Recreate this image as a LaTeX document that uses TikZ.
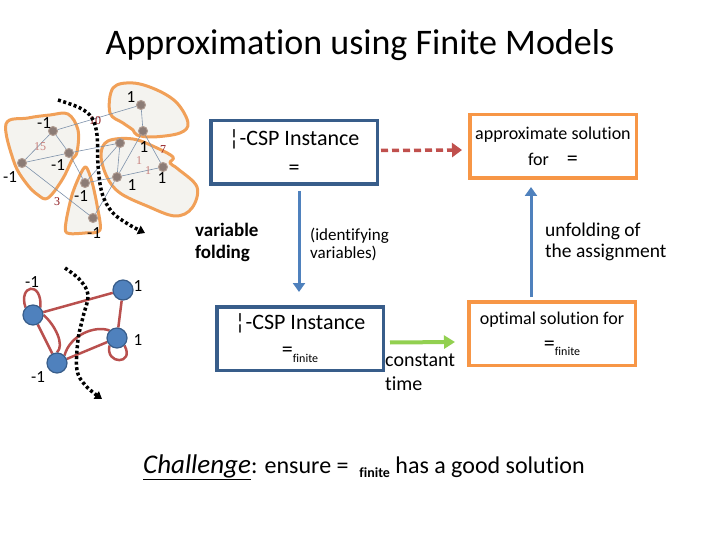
\documentclass[tikz,border=0pt]{standalone}
\usepackage{fontspec}
\setmainfont{Carlito}[Ligatures=NoCommon]
\newfontfamily\numserif{Liberation Serif}
\usetikzlibrary{arrows.meta,calc}
\pgfdeclarelayer{bg}
\pgfsetlayers{bg,main}
\definecolor{boxblue}{RGB}{56,93,138}
\definecolor{boxorange}{RGB}{247,150,70}
\definecolor{arrred}{RGB}{192,80,77}
\definecolor{arrblue}{RGB}{79,129,189}
\definecolor{arrgreen}{RGB}{146,208,80}
\definecolor{blobfill}{RGB}{244,243,239}
\definecolor{blobline}{RGB}{241,160,88}
\definecolor{gnfill}{RGB}{140,124,118}
\definecolor{gnline}{RGB}{175,155,145}
\definecolor{edgegray}{RGB}{125,145,170}
\definecolor{numred}{RGB}{140,20,25}
\definecolor{numpink}{RGB}{200,130,125}
\definecolor{gedge}{RGB}{185,80,78}
\begin{document}
\begin{tikzpicture}[x=1pt,y=-1pt,
  blob/.style={draw=blobline, line width=3pt, fill=blobfill, line join=round},
  gnode/.style={circle, fill=gnfill, draw=gnline, line width=1pt, minimum size=9pt, inner sep=0pt},
  tedge/.style={draw=edgegray, line width=0.6pt},
  lbl/.style={font=\fontsize{17}{17}\selectfont, inner sep=0pt},
  snum/.style={font=\numserif\fontsize{12}{12}\selectfont, inner sep=0pt},
  bnode/.style={circle, fill=arrblue, draw=boxblue, line width=1.2pt, minimum size=20pt, inner sep=0pt},
  redge/.style={draw=gedge, line width=2.5pt},
  dotline/.style={draw=black, line width=3.5pt, dash pattern=on 3pt off 2.5pt, -{Triangle[length=7pt,width=9pt]}},
  bluebox/.style={draw=boxblue, line width=3.5pt, minimum width=166.5pt, minimum height=63.5pt, align=center, inner sep=0pt},
  orangebox/.style={draw=boxorange, line width=3.5pt, minimum width=166.5pt, minimum height=63.5pt, align=center, inner sep=0pt},
  txt/.style={inner sep=0pt, anchor=north west, align=left}
]
\useasboundingbox (0,0) rectangle (720,540);

% title
\node[font=\fontsize{36}{40}\selectfont, anchor=base, inner sep=0pt] (title) at (360,55) {Approximation using Finite Models};

% ---------- top-left graph ----------
\path[blob] plot[smooth cycle, tension=0.6] coordinates {(6,124) (28,118) (50,115) (68,114) (78,130) (77,152) (72,160) (62,180) (48,198) (38,195) (26,183) (14,162)};
\path[blob] plot[smooth cycle, tension=0.5] coordinates {(86,167) (92,182) (97,205) (100,230) (85,233) (67,233) (66,222) (72,195) (80,175)};
\path[blob] plot[smooth cycle, tension=0.6] coordinates {(110,113) (113,88) (133,83) (157,90) (177,103) (188,123) (180,133) (153,137) (137,135) (133,130) (123,123)};
\path[blob] plot[smooth cycle, tension=0.6] coordinates {(101,155) (108,141) (133,139) (157,148) (173,157) (170,163) (178,169) (197,187) (192,208) (175,216) (147,206) (120,193) (107,177)};

\node[gnode] (A) at (53,131) {};
\node[gnode] (B) at (69,153) {};
\node[gnode] (C) at (22,163) {};
\node[gnode] (D) at (85,183) {};
\node[gnode] (E) at (93,218) {};
\node[gnode] (F) at (141,105) {};
\node[gnode] (G) at (143,131) {};
\node[gnode] (H) at (120,143) {};
\node[gnode] (I) at (117,177) {};
\node[gnode] (J) at (163,167) {};

\draw[tedge] (A) -- (B) (A) -- (C) (B) -- (C) (A) -- (F) (B) -- (H) (C) -- (E)
  (B) -- (D) (D) -- (H) (D) -- (I) (E) -- (I) (H) -- (I) (G) -- (I) (G) -- (J) (I) -- (J) (F) -- (G);

\node[lbl] (l1) at (44,123) {-1};
\node[snum, text=numpink] (l2) at (40,147) {15};
\node[lbl] (l3) at (58,165) {-1};
\node[lbl] (l4) at (10,177) {-1};
\node[snum, text=numred] (l5) at (57,202) {3};
\node[lbl] (l6) at (81,196) {-1};
\node[lbl] (l7) at (94,233) {-1};
\node[snum, text=numred] (l8) at (95,121) {10};
\node[lbl] (l9) at (131,97) {1};
\node[lbl] (l10) at (144,147) {1};
\node[snum, text=numred] (l11) at (163,150) {7};
\node[snum, text=numpink] (l12) at (139,161) {1};
\node[snum, text=numpink] (l13) at (148,171) {1};
\node[lbl] (l14) at (162,178) {1};
\node[lbl] (l15) at (132,185) {1};

\coordinate (d1s) at (58,100);
\coordinate (d1e) at (145,233);
\draw[dotline] plot[smooth, tension=0.6] coordinates {(d1s) (80,108) (92,118) (97,135) (98,165) (102,193) (112,212) (128,224) (d1e)};

% ---------- bottom-left graph ----------
\node[bnode] (P) at (33,315) {};
\node[bnode] (Q) at (123,290) {};
\node[bnode] (R) at (117,338) {};
\node[bnode] (S) at (57,363) {};
\begin{pgfonlayer}{bg}
\begin{scope}[redge]
\draw (P) -- (Q);
\draw (P) -- (S);
\draw (Q) -- (R);
\draw (R) -- (S);
\draw (P.east) .. controls (55,325) and (65,345) .. (S.north);
\draw (S.north east) .. controls (70,335) and (95,325) .. (R.north west);
\draw (P.north west) .. controls (18,285) and (42,280) .. (P.north east);
\draw (R.south west) .. controls (105,365) and (135,365) .. (R.south east);
\end{scope}
\end{pgfonlayer}
\node[lbl] (m1) at (32,282) {-1};
\node[lbl] (m2) at (138,286) {1};
\node[lbl] (m3) at (138,340) {1};
\node[lbl] (m4) at (38,377) {-1};

\coordinate (d2s) at (65,268);
\coordinate (d2e) at (102,399);
\draw[dotline] plot[smooth, tension=0.6] coordinates {(d2s) (80,280) (88,295) (83,317) (78,340) (77,370) (86,386) (d2e)};

% ---------- boxes ----------
\node[bluebox, font=\fontsize{22}{29}\selectfont] (box1) at (294,152.5) {¦-CSP Instance\\=};
\node[orangebox, font=\fontsize{18}{26}\selectfont] (box2) at (553,146.5) {approximate solution\\for\quad{\fontsize{22}{26}\selectfont =}};
\node[bluebox, font=\fontsize{22}{27}\selectfont] (box3) at (300,338.5) {¦-CSP Instance\\=\raisebox{-6pt}{\fontsize{12}{12}\selectfont finite}};
\node[orangebox, font=\fontsize{18}{26}\selectfont] (box4) at (552,333.5) {optimal solution for\\\hspace*{20pt}{\fontsize{22}{26}\selectfont =}\raisebox{-5pt}{\fontsize{12}{12}\selectfont finite}};

% ---------- arrows ----------
\draw[draw=arrred, line width=3.5pt, dash pattern=on 7pt off 4pt, -{Triangle[length=10pt,width=14pt]}]
  ([shift={(2,-2)}]box1.east) -- ([shift={(-6,3.5)}]box2.west);
\draw[draw=arrblue, line width=3pt, -{Triangle[length=9pt,width=12pt]}]
  ([shift={(5,5)}]box1.south) -- ([shift={(-1,-13)}]box3.north);
\draw[draw=arrblue, line width=3pt, -{Triangle[length=9pt,width=12pt]}]
  ([shift={(-21,-3)}]box4.north) -- ([shift={(-22,7)}]box2.south);
\draw[draw=arrgreen, line width=4pt, -{Triangle[length=11pt,width=13pt]}]
  ([shift={(5,4)}]box3.east) -- ([shift={(-12,8.5)}]box4.west);

% ---------- texts ----------
\node[txt, font=\bfseries\fontsize{19}{22}\selectfont] (vf) at (195,223) {variable\\folding};
\node[txt, font=\fontsize{17}{18}\selectfont] (idv) at (310,228) {(identifying\\variables)};
\node[txt, font=\fontsize{19.5}{21}\selectfont] (unf) at (545,223) {unfolding of\\the assignment};
\node[txt, font=\fontsize{20}{24}\selectfont] (ct) at (385,354) {constant\\time};

\node[font=\fontsize{24}{28}\selectfont, anchor=base west, inner sep=0pt] (chal) at (143,473)
  {\underline{\textit{\fontsize{27}{28}\selectfont Challenge}}: ensure =\ \ \raisebox{-4pt}{\fontsize{14}{14}\selectfont\bfseries finite}\ has a good solution};
\end{tikzpicture}
\end{document}
